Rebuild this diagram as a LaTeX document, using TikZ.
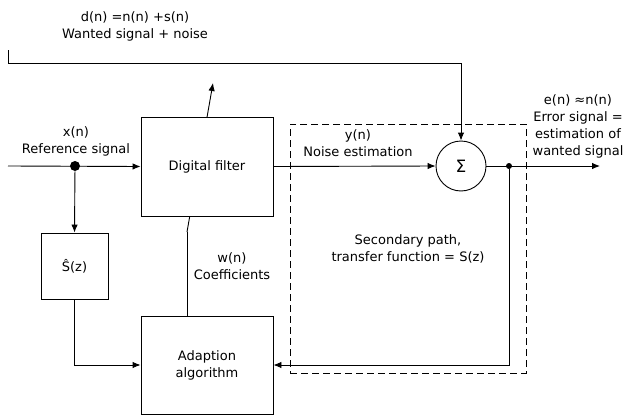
\documentclass[tikz,border=0pt]{standalone}
\usepackage{fontspec}
\setmainfont{DejaVu Sans}
\usetikzlibrary{arrows.meta}
\begin{document}
\begin{tikzpicture}[x=1pt, y=-1pt, >={Latex[length=8pt,width=6.5pt]}, line width=0.9pt,
  font=\fontsize{13}{17}\selectfont,
  every block/.style={draw, fill=white, align=center, inner sep=0pt},
  every label/.style={align=center, inner sep=0pt},
  junction/.style={circle, fill, inner sep=0pt, minimum size=#1}]

\useasboundingbox (0,0) rectangle (624,415);

\node [draw, dashed, dash pattern=on 7pt off 4pt, minimum width=236pt, minimum height=249pt,
  align=center] (secondary) at (408,248.5) {Secondary path,\\transfer function = S(z)};

\node [every block/.try, minimum width=132pt, minimum height=98pt] (adapt) at (207,365) {Adaption\\algorithm};
\node [every block/.try, minimum width=67pt, minimum height=66pt] (shat) at (74.5,266) {Ŝ(z)};
\node [draw, circle, minimum size=50pt, inner sep=0pt] (sum) at (461,166) {\fontsize{17}{17}\selectfont Σ};

\coordinate (tune-base) at (187,232);
\coordinate (tune-tip) at (213,83);
\draw (adapt.north -| tune-base) -- (tune-base);
\draw [->] (tune-base) -- (tune-tip);

\node [every block/.try, minimum width=132pt, minimum height=99pt] (filter) at (207,166.5) {Digital filter};

\node [junction=10pt] (x-dot) at (75,166) {};
\node [junction=6pt] (e-dot) at (509,166) {};

\coordinate (x-in) at (8,166);
\coordinate (d-in) at (8,63);
\coordinate (e-out) at (600,166);

\draw [->] (x-in) -- (filter.west);
\draw [->] (x-dot) -- (shat.north);
\draw [->] (shat.south) |- (adapt.west);
\draw [->] (filter.east) -- (sum.west);
\draw [->] (d-in) ++(0,-13) -- (d-in) -| (sum.north);
\draw [->] (sum.east) -- (e-out);
\draw [->] (e-dot) |- (adapt.east);

\node [every label/.try] (d-label) at (135,26.5) {d(n) =n(n) +s(n)\\Wanted signal + noise};
\node [every label/.try] (x-label) at (76,141.5) {x(n)\\Reference signal};
\node [every label/.try] (y-label) at (358,143.5) {y(n)\\Noise estimation};
\node [every label/.try] (w-label) at (232,266.5) {w(n)\\Coefficients};
\node [every label/.try] (e-label) at (578,126) {e(n) ≈n(n)\\Error signal =\\estimation of\\wanted signal};

\end{tikzpicture}
\end{document}
